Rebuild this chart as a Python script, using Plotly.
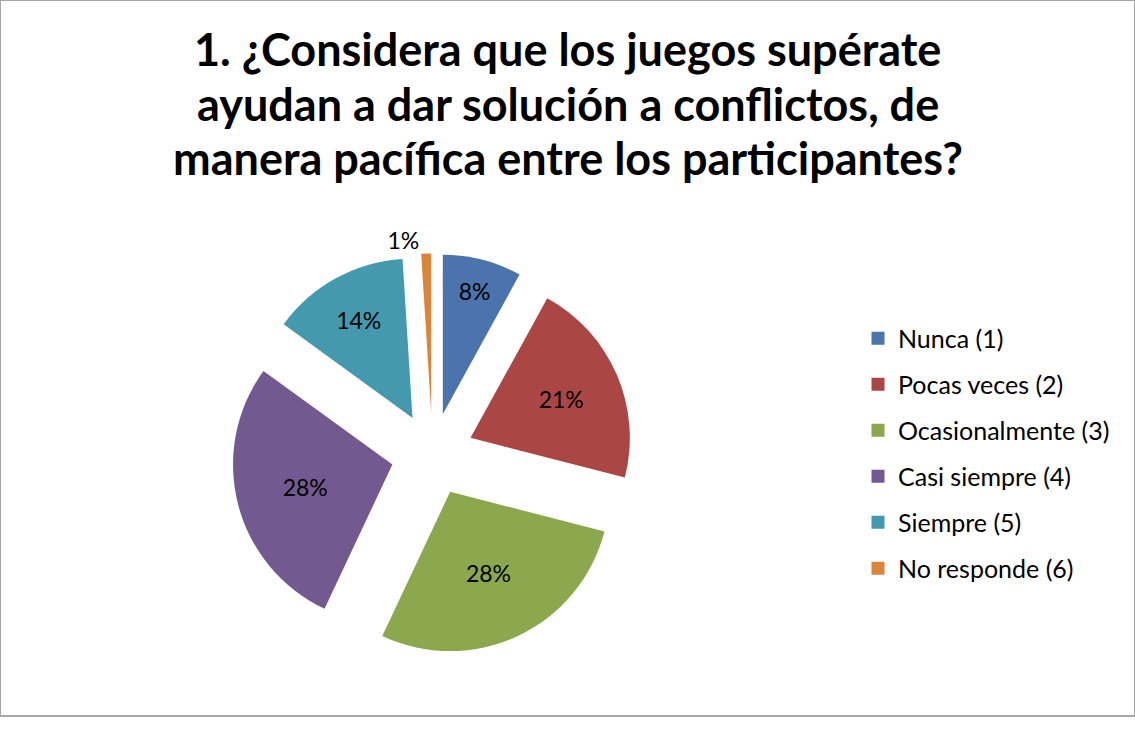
import plotly.graph_objects as go

LABELS = ["Nunca (1)", "Pocas veces (2)", "Ocasionalmente (3)", "Casi siempre (4)",
          "Siempre (5)", "No responde (6)"]
PERCENTS = [8, 21, 28, 28, 14, 1]
COLORS = ["#4a74ab", "#aa4644", "#8ba84f", "#72598f", "#4599ae", "#db853a"]
TEXT_POS = ["inside", "inside", "inside", "inside", "inside", "outside"]

TITLE_LINES = [
    "1. ¿Considera que los juegos supérate",
    "ayudan a dar solución a conflictos, de",
    "manera pacífica entre los participantes?",
]
FONT = "Lato, Calibri, sans-serif"
W, H = 1135, 740


def fy(py):
    return 1 - py / H


fig = go.Figure()
fig.add_trace(
    go.Pie(
        labels=LABELS,
        values=PERCENTS,
        sort=False,
        direction="clockwise",
        rotation=0,
        pull=0.26,
        marker=dict(colors=COLORS, line=dict(width=0)),
        texttemplate="%{value}%",
        textposition=TEXT_POS,
        insidetextorientation="horizontal",
        textfont=dict(family=FONT, size=23, color="black"),
        showlegend=False,
        hoverinfo="label+percent",
        domain=dict(x=[225 / W, 640 / W], y=[fy(677), fy(262)]),
    )
)

# legend entries as separate groups so the vertical spacing matches
for lab, col in zip(LABELS, COLORS):
    fig.add_trace(
        go.Scatter(
            x=[None], y=[None], mode="markers", name=lab, legendgroup=lab,
            marker=dict(symbol="square", size=13, color=col),
        )
    )

for i, line in enumerate(TITLE_LINES):
    fig.add_annotation(
        text=f"<b>{line}</b>", xref="paper", yref="paper", x=0.5, xanchor="center",
        y=fy(51 + 56 * i), yanchor="middle", showarrow=False,
        font=dict(family=FONT, size=45, color="black"),
    )

fig.add_shape(type="rect", xref="paper", yref="paper", x0=0, x1=1, y0=0, y1=1,
              line=dict(color="#a6a6a6", width=2))

fig.update_xaxes(visible=False)
fig.update_yaxes(visible=False)
fig.update_layout(
    width=W,
    height=H,
    margin=dict(l=0, r=0, t=0, b=0),
    paper_bgcolor="white",
    plot_bgcolor="white",
    font=dict(family=FONT, color="black"),
    legend=dict(
        x=858 / W, xanchor="left", y=fy(326), yanchor="top",
        traceorder="grouped", tracegroupgap=10.5,
        font=dict(family=FONT, size=25, color="black"),
        bgcolor="rgba(0,0,0,0)",
    ),
)

fig.write_html(
    "out.html",
    config=dict(displayModeBar=False),
    post_script="document.body.style.margin='0';document.body.style.overflow='hidden';",
)
